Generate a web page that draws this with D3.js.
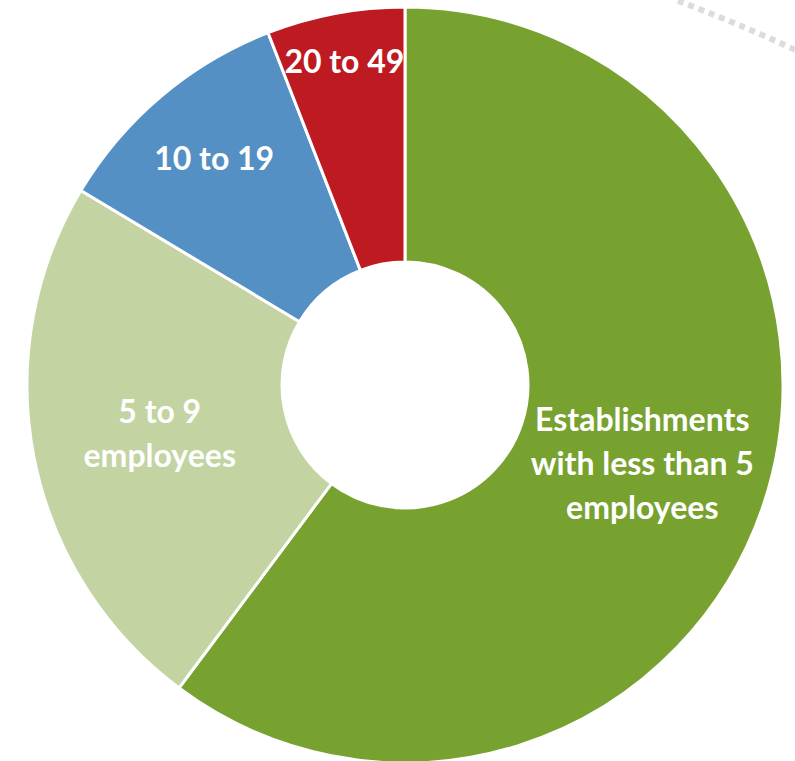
<!DOCTYPE html>
<html>
<head>
<meta charset="utf-8">
<script src="https://d3js.org/d3.v7.min.js"></script>
<style>
  body { margin: 0; background: #fff; }
  svg { display: block; }
  .sliceLabel { font-family: Lato, "Open Sans", sans-serif; font-weight: 700; fill: #fff; }
</style>
</head>
<body>
<div id="chart"></div>
<script>
// slice categories, clockwise from 12 o'clock
const categories = ["Establishments with less than 5 employees", "5 to 9 employees", "10 to 19", "20 to 49"];
const labelLines = [
  ["Establishments", "with less than 5", "employees"],
  ["5 to 9", "employees"],
  ["10 to 19"],
  ["20 to 49"]
];
const shares = [60.2, 23.4, 10.5, 5.9];
const colors = ["#78A22F", "#C3D3A2", "#5590C4", "#BE1A22"];

(function() {
  const width = 795, height = 761;
  const cx = 405, cy = 385;
  const outerR = 378, innerR = 123;

  const svg = d3.select("#chart").append("svg")
    .attr("width", width)
    .attr("height", height);

  // decorative dotted arc, top right corner
  svg.append("path")
    .attr("d", "M678,1 Q735,22 800,52")
    .attr("fill", "none")
    .attr("stroke", "#dcdcdc")
    .attr("stroke-width", 6)
    .attr("stroke-dasharray", "6,5");

  const data = categories.map((c, i) => ({ name: c, value: shares[i], lines: labelLines[i], color: colors[i] }));

  const pie = d3.pie()
    .sort(null)
    .value(d => d.value);

  const arc = d3.arc()
    .innerRadius(innerR)
    .outerRadius(outerR);

  const g = svg.append("g")
    .attr("transform", "translate(" + cx + "," + cy + ")");

  const arcs = pie(data);

  g.selectAll(".slice")
    .data(arcs)
  .enter().append("path")
    .attr("class", "slice")
    .attr("d", arc)
    .attr("fill", d => d.data.color)
    .attr("stroke", "#fff")
    .attr("stroke-width", 3)
    .attr("stroke-linejoin", "miter");

  // small slices get their label pushed outward
  function labelRadius(d) {
    let span = d.endAngle - d.startAngle;
    if (span < 0.5) return 329;
    if (span < 1) return 296;
    return 250;
  }

  const fontSize = 32, lineH = 44;

  g.selectAll(".sliceLabel")
    .data(arcs)
  .enter().append("text")
    .attr("class", "sliceLabel")
    .attr("text-anchor", "middle")
    .style("font-size", fontSize + "px")
    .each(function(d) {
      let a = (d.startAngle + d.endAngle) / 2;
      let r = labelRadius(d);
      let x = r * Math.sin(a), y = -r * Math.cos(a);
      let n = d.data.lines.length;
      let self = d3.select(this);
      d.data.lines.forEach((line, i) => {
        self.append("tspan")
          .attr("x", x)
          .attr("y", y + (i - (n - 1) / 2) * lineH)
          .attr("dy", "0.35em")
          .text(line);
      });
    });
})();
</script>
</body>
</html>
